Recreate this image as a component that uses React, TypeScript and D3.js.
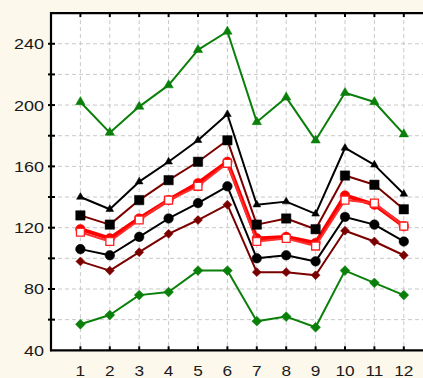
import React from "react";
import * as d3 from "d3";

const months = [1, 2, 3, 4, 5, 6, 7, 8, 9, 10, 11, 12];
const greenTri = [202, 182, 199, 213, 236, 248, 189, 205, 177, 208, 202, 181];
const blackTri = [140, 132, 150, 163, 177, 194, 135, 137, 129, 172, 161, 142];
const blackSq = [128, 122, 138, 151, 163, 177, 122, 126, 119, 154, 148, 132];
const redCircle = [119, 113, 126, 138, 149, 163, 113, 114, 110, 141, 135, 121];
const redOpenSq = [117, 111, 125, 138, 147, 162, 111, 113, 108, 138, 136, 121];
const blackCircle = [106, 102, 114, 126, 136, 147, 100, 102, 98, 127, 122, 111];
const darkRedDiamond = [98, 92, 104, 116, 125, 135, 91, 91, 89, 118, 111, 102];
const greenDiamond = [57, 63, 76, 78, 92, 92, 59, 62, 55, 92, 84, 76];
const yTicks = [40, 80, 120, 160, 200, 240];
const yGrid = [60, 80, 100, 120, 140, 160, 180, 200, 220, 240];

const W = 423;
const H = 378;
const left = 51;
const top = 13.1;
const bottom = 350.3;

const x = d3.scaleLinear().domain([0, 13]).range([left, left + 13 * 29.4]);
const y = d3.scaleLinear().domain([40, 260]).range([bottom, top]);

type Marker = "triangle" | "square" | "circle" | "diamond";

interface SeriesDef {
  values: number[];
  line: string;
  width: number;
  marker: Marker;
  fill: string;
  stroke: string;
  size: number;
}

const series: SeriesDef[] = [
  { values: greenTri, line: "#0a7f0a", width: 2, marker: "triangle", fill: "#0a7f0a", stroke: "#0a7f0a", size: 38 },
  { values: greenDiamond, line: "#0a7f0a", width: 2, marker: "diamond", fill: "#0a7f0a", stroke: "#0a7f0a", size: 48 },
  { values: darkRedDiamond, line: "#7a0000", width: 2, marker: "diamond", fill: "#7a0000", stroke: "#7a0000", size: 40 },
  { values: blackCircle, line: "#000", width: 2, marker: "circle", fill: "#000", stroke: "#000", size: 72 },
  { values: redCircle, line: "#ff0000", width: 4, marker: "circle", fill: "#ff0000", stroke: "#ff0000", size: 72 },
  { values: redOpenSq, line: "#ff3030", width: 2, marker: "square", fill: "#fff", stroke: "#ff2020", size: 62 },
  { values: blackSq, line: "#7a0000", width: 2, marker: "square", fill: "#000", stroke: "#000", size: 88 },
  { values: blackTri, line: "#000", width: 2, marker: "triangle", fill: "#000", stroke: "#000", size: 26 },
];

const symbolPath = (m: Marker, size: number): string => {
  if (m === "triangle") return d3.symbol().type(d3.symbolTriangle).size(size)() || "";
  if (m === "circle") return d3.symbol().type(d3.symbolCircle).size(size)() || "";
  return d3.symbol().type(d3.symbolSquare).size(size)() || "";
};

export default function App() {
  const line = d3
    .line<number>()
    .x((_, i) => x(months[i]))
    .y((d) => y(d));

  return (
    <svg
      width={W}
      height={H}
      style={{ position: "absolute", left: 0, top: 0, display: "block" }}
      fontFamily="'Liberation Sans', Arial, sans-serif"
    >
      <rect x={0} y={0} width={W} height={H} fill="#fdf8ec" />
      <rect x={left} y={top} width={W - left} height={bottom - top} fill="#fff" />
      {months.map((m) => (
        <line
          key={"vg" + m}
          x1={x(m)}
          x2={x(m)}
          y1={top}
          y2={bottom}
          stroke="#c8c8c8"
          strokeDasharray="4,3"
          strokeWidth={1}
        />
      ))}
      {yGrid.map((v) => (
        <line
          key={"hg" + v}
          x1={left}
          x2={W}
          y1={y(v)}
          y2={y(v)}
          stroke="#c8c8c8"
          strokeDasharray="4,3"
          strokeWidth={1}
        />
      ))}
      {series.map((s, si) => (
        <g key={"s" + si}>
          <path d={line(s.values) || ""} fill="none" stroke={s.line} strokeWidth={s.width} strokeLinejoin="round" />
          {s.values.map((v, i) => (
            <path
              key={i}
              transform={`translate(${x(months[i])},${y(v)})${s.marker === "diamond" ? " rotate(45)" : ""}`}
              d={symbolPath(s.marker, s.size)}
              fill={s.fill}
              stroke={s.stroke}
              strokeWidth={s.fill === "#fff" ? 1.3 : 0.5}
            />
          ))}
        </g>
      ))}
      {/* axes */}
      <line x1={left} x2={W} y1={top} y2={top} stroke="#000" strokeWidth={2.2} />
      <line x1={left} x2={left} y1={top - 1} y2={bottom + 1} stroke="#000" strokeWidth={2.2} />
      <line x1={left - 1} x2={W} y1={bottom} y2={bottom} stroke="#000" strokeWidth={2.2} />
      {months.map((m) => (
        <g key={"xt" + m}>
          <line x1={x(m)} x2={x(m)} y1={bottom} y2={bottom - 4} stroke="#000" strokeWidth={2} />
          <line x1={x(m)} x2={x(m)} y1={top} y2={top + 4} stroke="#000" strokeWidth={2} />
          <text
            transform={`translate(${x(m)},376) scale(1.15,1)`}
            textAnchor="middle"
            fontSize={15}
            fill="#1a1a1a"
          >
            {m}
          </text>
        </g>
      ))}
      {yGrid.map((v) => (
        <line key={"yt" + v} x1={left - 3} x2={left + 4} y1={y(v)} y2={y(v)} stroke="#000" strokeWidth={2} />
      ))}
      {yTicks.map((v) => (
        <text
          key={"yl" + v}
          transform={`translate(44,${y(v) + 5.5}) scale(1.2,1)`}
          textAnchor="end"
          fontSize={15}
          fill="#1a1a1a"
        >
          {v}
        </text>
      ))}
    </svg>
  );
}
